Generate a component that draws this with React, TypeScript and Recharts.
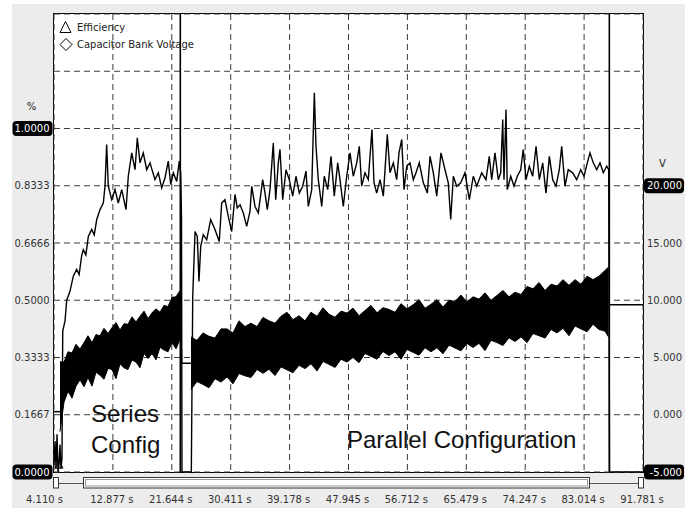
import React from 'react';
import { ComposedChart, Line, Area, XAxis, YAxis, CartesianGrid, ReferenceLine, Legend } from 'recharts';

// time axis (s)
const xTicks = [4.11, 12.877, 21.644, 30.411, 39.178, 47.945, 56.712, 65.479, 74.247, 83.014, 91.781];
const xTickLabels = ['4.110 s', '12.877 s', '21.644 s', '30.411 s', '39.178 s', '47.945 s', '56.712 s', '65.479 s', '74.247 s', '83.014 s', '91.781 s'];

// left axis: efficiency (fraction)
const leftTicks = [0, 0.16667, 0.33333, 0.5, 0.66667, 0.83333, 1, 1.16667, 1.33333];
const leftTickLabels = ['0.0000', '0.1667', '0.3333', '0.5000', '0.6666', '0.8333', '1.0000'];

// right axis: voltage (V)
const rightTicks = [-5, 0, 5, 10, 15, 20, 25, 30, 35];
const rightTickLabels = ['-5.000', '0.000', '5.000', '10.000', '15.000', '20.000'];

// cursor positions (s)
const cursorTimes = [22.91, 86.77];

// efficiency trace [t, value]
const efficiencyPoints: [number, number][] = [
  [4.11, 0.02], [4.26, 0.09], [4.41, 0.01], [4.56, 0.11], [4.71, 0.0], [4.85, 0.02], [5.0, 0.08], [5.15, 0.01],
  [5.3, 0.04], [5.41, 0.41], [5.75, 0.44], [6.0, 0.5], [6.49, 0.526], [6.98, 0.57], [7.49, 0.59], [7.85, 0.575],
  [8.23, 0.63], [8.47, 0.647], [8.85, 0.632], [9.22, 0.686], [9.72, 0.706], [10.1, 0.69], [10.47, 0.735], [10.96, 0.764],
  [11.45, 0.783], [11.7, 0.832], [11.95, 0.953], [12.19, 0.832], [12.7, 0.793], [13.19, 0.822], [13.68, 0.783], [14.19, 0.822],
  [14.83, 0.764], [15.17, 0.861], [15.68, 0.929], [16.17, 0.88], [16.51, 0.973], [16.91, 0.9], [17.4, 0.929], [17.91, 0.88],
  [18.4, 0.9], [19.14, 0.851], [19.64, 0.871], [20.14, 0.827], [20.63, 0.856], [21.12, 0.905], [21.48, 0.837], [21.87, 0.871],
  [22.37, 0.846], [22.76, 0.905], [22.97, 0.871], [23.09, 0.74], [23.16, 0.0], [24.55, 0.0], [24.76, 0.511], [25.1, 0.7],
  [25.44, 0.686], [25.69, 0.555], [25.95, 0.657], [26.33, 0.691], [26.84, 0.676], [27.43, 0.735], [28.07, 0.706], [28.71, 0.671],
  [29.07, 0.783], [29.56, 0.793], [30.05, 0.744], [30.56, 0.7], [31.05, 0.808], [31.39, 0.769], [31.8, 0.778], [32.29, 0.754],
  [32.79, 0.715], [33.28, 0.759], [33.54, 0.832], [34.03, 0.773], [34.52, 0.754], [35.17, 0.851], [35.52, 0.812], [35.86, 0.764],
  [36.26, 0.822], [36.75, 0.958], [37.11, 0.793], [37.5, 0.9], [37.75, 0.939], [38.15, 0.793], [38.64, 0.88], [39.13, 0.851],
  [39.64, 0.803], [40.13, 0.861], [40.62, 0.812], [41.13, 0.832], [41.62, 0.876], [41.96, 0.773], [42.47, 0.822], [42.86, 1.104],
  [43.11, 0.948], [43.45, 0.851], [43.96, 0.773], [44.34, 0.861], [44.85, 0.822], [45.34, 0.919], [45.83, 0.803], [46.34, 0.9],
  [46.68, 0.851], [47.17, 0.773], [47.68, 0.861], [48.17, 0.929], [48.66, 0.861], [49.17, 0.9], [49.55, 0.948], [49.91, 0.832],
  [50.4, 0.871], [50.89, 0.851], [51.44, 0.997], [51.74, 0.842], [52.14, 0.812], [52.64, 0.851], [53.13, 0.803], [53.72, 0.983],
  [54.12, 0.871], [54.62, 0.9], [55.12, 0.851], [55.46, 0.929], [55.87, 0.968], [56.21, 0.822], [56.61, 0.89], [57.1, 0.9],
  [57.59, 0.851], [57.99, 0.871], [58.48, 0.9], [59.08, 0.842], [59.68, 0.812], [60.08, 0.919], [60.57, 0.871], [61.08, 0.803],
  [61.71, 0.929], [62.31, 0.88], [62.8, 0.842], [63.16, 0.735], [63.55, 0.861], [64.05, 0.832], [64.65, 0.842], [65.29, 0.871],
  [65.93, 0.793], [66.52, 0.861], [67.03, 0.832], [67.77, 0.871], [68.41, 0.851], [68.9, 0.919], [69.26, 0.851], [69.75, 0.929],
  [70.24, 0.851], [70.6, 0.871], [70.9, 1.026], [71.09, 0.851], [71.39, 1.055], [71.58, 0.822], [72.09, 0.861], [72.58, 0.832],
  [73.07, 0.861], [73.58, 0.88], [73.96, 0.939], [74.37, 0.851], [74.86, 0.89], [75.36, 0.861], [75.86, 0.948], [76.35, 0.851],
  [76.85, 0.9], [77.34, 0.812], [77.84, 0.919], [78.34, 0.851], [78.83, 0.832], [79.32, 0.88], [79.68, 0.948], [80.17, 0.832],
  [80.66, 0.88], [81.32, 0.871], [81.91, 0.851], [82.51, 0.88], [83.0, 0.861], [83.49, 0.9], [83.89, 0.929], [84.38, 0.9],
  [84.89, 0.88], [85.38, 0.9], [85.87, 0.871], [86.38, 0.89], [86.68, 0.88], [86.8, 0.0], [91.781, 0.0],
];

// capacitor bank voltage envelope, series config [t, low, high]
const seriesBandPoints: [number, number, number][] = [
  [5.0, -1.47, 4.63], [5.6, 1.1, 4.6], [6.19, 2.05, 5.5], [6.79, 1.45, 5.4], [7.38, 2.5, 6.15], [7.98, 3.05, 5.75],
  [8.58, 2.45, 6.3], [9.17, 3.25, 6.9], [9.77, 2.5, 6.3], [10.36, 3.72, 7.0], [10.96, 3.44, 6.9], [11.55, 3.1, 7.55],
  [12.15, 4.05, 7.1], [12.74, 3.95, 7.6], [13.34, 3.15, 8.05], [13.93, 4.45, 7.4], [14.53, 4.1, 7.95], [15.12, 3.95, 7.9],
  [15.72, 4.78, 8.55], [16.32, 4.6, 8.1], [16.91, 4.1, 8.6], [17.51, 5.35, 9.05], [18.1, 4.92, 8.4], [18.7, 5.35, 8.9],
  [19.29, 4.8, 9.25], [19.89, 5.9, 8.95], [20.48, 5.65, 9.55], [21.08, 5.5, 9.45], [21.68, 6.3, 10.25], [22.27, 5.75, 10.3],
  [22.87, 6.59, 10.86],
];

// capacitor bank voltage envelope, parallel config [t, low, high]
const parallelBandPoints: [number, number, number][] = [
  [24.5, 2.2, 6.8], [25.39, 2.9, 6.5], [26.29, 2.65, 7.15], [27.18, 2.35, 6.85], [28.07, 3.15, 6.7], [28.97, 2.85, 7.5],
  [29.86, 3.3, 7.5], [30.75, 2.7, 7.15], [31.65, 3.6, 8.2], [32.54, 3.4, 7.7], [33.43, 3.25, 8.0], [34.32, 3.95, 7.7],
  [35.22, 3.62, 8.5], [36.11, 3.97, 8.2], [37.0, 3.43, 8.0], [37.9, 4.18, 8.6], [38.79, 3.92, 8.95], [39.68, 3.67, 8.3],
  [40.58, 4.32, 8.65], [41.47, 4.03, 8.2], [42.36, 4.45, 8.95], [43.26, 3.82, 8.6], [44.15, 4.66, 9.35], [45.04, 4.4, 8.78],
  [45.94, 4.13, 8.52], [46.83, 4.85, 9.05], [47.72, 4.6, 8.88], [48.61, 5.0, 9.32], [49.51, 4.55, 8.65], [50.4, 5.35, 9.1],
  [51.29, 5.1, 9.55], [52.19, 4.85, 8.9], [53.08, 5.52, 9.35], [53.97, 5.17, 9.2], [54.87, 5.5, 8.95], [55.76, 4.85, 9.7],
  [56.65, 5.7, 9.25], [57.55, 5.45, 9.6], [58.44, 5.2, 10.05], [59.33, 5.85, 9.3], [60.23, 5.5, 9.65], [61.12, 5.85, 10.05],
  [62.01, 5.32, 9.4], [62.91, 6.08, 10.0], [63.8, 5.83, 9.9], [64.69, 5.58, 10.45], [65.58, 6.23, 9.85], [66.48, 5.88, 10.3],
  [67.37, 6.24, 10.1], [68.26, 5.6, 10.65], [69.16, 6.5, 10.0], [70.05, 6.3, 10.42], [70.94, 6.05, 10.86], [71.84, 6.72, 10.3],
  [72.73, 6.4, 10.7], [73.62, 6.8, 10.5], [74.52, 6.3, 11.2], [75.41, 7.1, 11.0], [76.3, 6.9, 11.55], [77.2, 6.7, 10.85],
  [78.09, 7.45, 11.4], [78.98, 7.15, 11.25], [79.87, 7.55, 11.8], [80.77, 6.9, 11.3], [81.66, 7.75, 11.8], [82.55, 7.5, 11.4],
  [83.45, 7.25, 12.1], [84.34, 7.9, 11.8], [85.23, 7.45, 12.1], [86.13, 7.3, 12.6], [86.65, 6.8, 12.9],
];

// flat voltage segments [t, V]
const voltStartPoints: [number, number][] = [[4.11, 0.27], [5.0, 0.27]];
const voltSwitchPoints: [number, number][] = [[22.9, 9.4], [23.12, 4.5], [24.5, 4.5]];
const voltEndPoints: [number, number][] = [[86.72, 9.6], [91.781, 9.6]];

const efficiency = efficiencyPoints.map(([t, e]) => ({ t, e }));
const seriesBand = seriesBandPoints.map(([t, lo, hi]) => ({ t, v: [lo, hi] }));
const parallelBand = parallelBandPoints.map(([t, lo, hi]) => ({ t, v: [lo, hi] }));
const voltStart = voltStartPoints.map(([t, v]) => ({ t, v }));
const voltSwitch = voltSwitchPoints.map(([t, v]) => ({ t, v }));
const voltEnd = voltEndPoints.map(([t, v]) => ({ t, v }));

const FONT = 'DejaVu Sans, Tahoma, sans-serif';

const LeftTick = (props: any) => {
  const { x, y, payload } = props;
  const i = leftTicks.indexOf(payload.value);
  const label = leftTickLabels[i];
  if (!label) return <g />;
  const boxed = i === 0 || i === leftTickLabels.length - 1;
  return (
    <g>
      {boxed && <rect x={x - 41.5} y={y - 7.5} width={40} height={15} rx={4} fill="#000" />}
      <text x={x - 4.5} y={y + 3.6} textAnchor="end" fontSize={10} fontFamily={FONT} fill={boxed ? '#fff' : '#333'}>
        {label}
      </text>
    </g>
  );
};

const RightTick = (props: any) => {
  const { x, y, payload } = props;
  const i = rightTicks.indexOf(payload.value);
  const label = rightTickLabels[i];
  if (!label) return <g />;
  const boxed = i === 0 || i === rightTickLabels.length - 1;
  return (
    <g>
      {boxed && <rect x={x + 1} y={y - 7.5} width={40} height={15} rx={4} fill="#000" />}
      <text x={x + 39} y={y + 3.6} textAnchor="end" fontSize={10} fontFamily={FONT} fill={boxed ? '#fff' : '#333'}>
        {label}
      </text>
    </g>
  );
};

const TimeTick = (props: any) => {
  const { x, y, payload } = props;
  const i = xTicks.indexOf(payload.value);
  return (
    <text x={x + (i === 0 ? -9.5 : -1)} y={y + 31} textAnchor="middle" fontSize={10} fontFamily={FONT} fill="#333">
      {xTickLabels[i]}
    </text>
  );
};

const TriangleDot = (props: any) => {
  const { cx, cy, index } = props;
  if (index !== 5) return <g key={`d${index}`} />;
  return <polygon key={`d${index}`} points={`${cx - 4},${cy + 3} ${cx},${cy - 5} ${cx + 4},${cy + 3}`} fill="none" stroke="#000" />;
};

const LegendBox = () => (
  <svg width={150} height={36} style={{ display: 'block' }}>
    <polygon points="2,14.5 7.5,3.5 13,14.5" fill="none" stroke="#000" />
    <text x={19} y={12.5} fontSize={10} fontFamily={FONT} fill="#222">Efficiency</text>
    <polygon points="2,26.5 8,20.5 14,26.5 8,32.5" fill="none" stroke="#000" />
    <text x={19} y={29.5} fontSize={10} fontFamily={FONT} fill="#222">Capacitor Bank Voltage</text>
  </svg>
);

export default function App() {
  return (
    <div style={{ position: 'absolute', left: 0, top: 0, width: 699, height: 508, background: '#fff', overflow: 'hidden' }}>
      <div style={{ position: 'absolute', left: 12, top: 4, width: 673, height: 504, background: '#ececec' }} />
      <div style={{ position: 'absolute', left: 53, top: 13, width: 591, height: 460, boxSizing: 'border-box', border: '1px solid #000', background: '#fff' }} />
      <div style={{ position: 'absolute', left: 0, top: 0 }}>
        <ComposedChart width={699} height={508} margin={{ top: 14, right: 0, bottom: 0, left: 0 }}>
          <CartesianGrid yAxisId="left" stroke="#3a3a3a" strokeDasharray="6 4" />
          <XAxis dataKey="t" type="number" domain={[4.11, 91.781]} ticks={xTicks} interval={0} allowDataOverflow
            height={36} tickSize={0} tickMargin={0} tickLine={false} axisLine={false} tick={<TimeTick />} />
          <YAxis yAxisId="left" width={54} domain={[0, 1.33333]} ticks={leftTicks} interval={0} allowDataOverflow
            tickSize={0} tickMargin={0} tickLine={false} axisLine={false} tick={<LeftTick />} />
          <YAxis yAxisId="right" orientation="right" width={56} domain={[-5, 35]} ticks={rightTicks} interval={0} allowDataOverflow
            tickSize={0} tickMargin={0} tickLine={false} axisLine={false} tick={<RightTick />} />
          <Legend layout="vertical" align="center" verticalAlign="middle"
            wrapperStyle={{ left: 58, top: 18, width: 150, height: 36 }} content={() => <LegendBox />} />
          <Area yAxisId="right" data={seriesBand} dataKey="v" type="linear" stroke="#000" strokeWidth={1} fill="#000" fillOpacity={1}
            dot={false} activeDot={false} isAnimationActive={false} legendType="none" />
          <Area yAxisId="right" data={parallelBand} dataKey="v" type="linear" stroke="#000" strokeWidth={1} fill="#000" fillOpacity={1}
            dot={false} activeDot={false} isAnimationActive={false} legendType="none" />
          <Line yAxisId="right" data={voltStart} dataKey="v" type="linear" stroke="#000" strokeWidth={1.5} dot={false} isAnimationActive={false} legendType="none" />
          <Line yAxisId="right" data={voltSwitch} dataKey="v" type="linear" stroke="#000" strokeWidth={1.5} dot={false} isAnimationActive={false} legendType="none" />
          <Line yAxisId="right" data={voltEnd} dataKey="v" type="linear" stroke="#000" strokeWidth={1.5} dot={false} isAnimationActive={false} legendType="none" />
          <Line yAxisId="left" data={efficiency} dataKey="e" type="linear" stroke="#000" strokeWidth={1.4} dot={<TriangleDot />}
            activeDot={false} isAnimationActive={false} legendType="none" />
          {cursorTimes.map((t) => (
            <ReferenceLine key={t} x={t} yAxisId="left" stroke="#000" strokeWidth={1.6} />
          ))}
        </ComposedChart>
      </div>
      <svg width={699} height={508} style={{ position: 'absolute', left: 0, top: 0, pointerEvents: 'none' }}>
        <text x={31.5} y={110} textAnchor="middle" fontSize={10} fontFamily={FONT} fill="#222">%</text>
        <text x={662.5} y={167} textAnchor="middle" fontSize={10} fontFamily={FONT} fill="#222">V</text>
        <g fontFamily="Liberation Sans, Arial, sans-serif" fontSize={24} fill="#111">
          <text x={91} y={422}>Series</text>
          <text x={91} y={453}>Config</text>
          <text x={347} y={448}>Parallel Configuration</text>
        </g>
        {/* scrollbar */}
        <line x1={59} y1={483.5} x2={638} y2={483.5} stroke="#555" />
        <rect x={53.5} y={477.5} width={5} height={10.5} fill="#fff" stroke="#333" />
        <rect x={83.5} y={477.5} width={506} height={10.5} fill="#fff" stroke="#333" />
        <rect x={85.5} y={479.5} width={502} height={6.5} fill="none" stroke="#999" />
        <rect x={638.5} y={477.5} width={5} height={10.5} fill="#fff" stroke="#333" />
      </svg>
    </div>
  );
}
